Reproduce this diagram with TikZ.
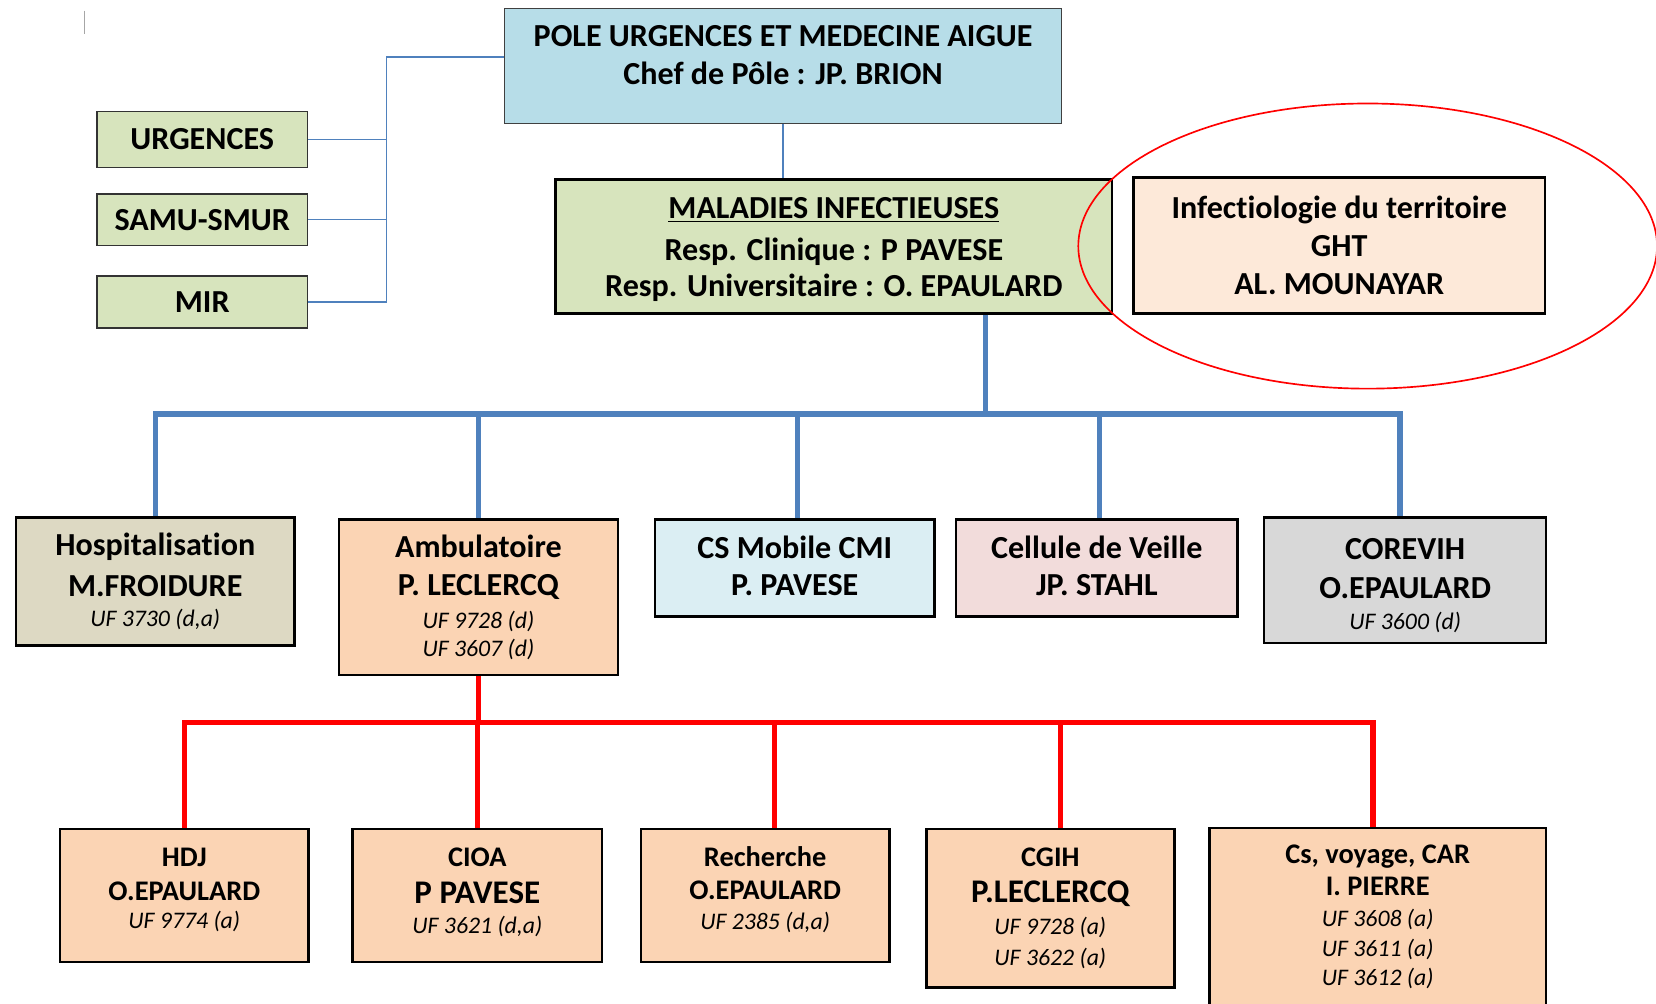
\documentclass[tikz,border=0pt]{standalone}
\usepackage{fontspec}
\setmainfont{Carlito}[Ligatures={NoCommon}]
\usepackage{xcolor}
\usetikzlibrary{positioning}
\definecolor{polebleu}{HTML}{B7DDE8}
\definecolor{vertol}{HTML}{D7E4BD}
\definecolor{pechepale}{HTML}{FDE9D9}
\definecolor{peche}{HTML}{FBD4B4}
\definecolor{beige}{HTML}{DDD9C3}
\definecolor{bleupale}{HTML}{DBEEF3}
\definecolor{rosepale}{HTML}{F2DCDB}
\definecolor{grispale}{HTML}{D8D8D8}
\definecolor{lienbleu}{HTML}{4F81BD}
\newcommand{\gros}{\fontsize{17.3}{20.5}\selectfont}
\newcommand{\grand}{\fontsize{17.8}{20.5}\selectfont}
\newcommand{\moyen}{\fontsize{15.3}{18.5}\selectfont}
\newcommand{\uftxt}{\fontsize{12.8}{15}\selectfont\mdseries\itshape}

\begin{document}
\begin{tikzpicture}[x=0.2mm,y=-0.2mm,
boite/.style={draw=black,line width=1.4pt,align=center,inner sep=0pt,font=\gros\bfseries},
petite/.style={boite,fill=peche,font=\moyen\bfseries},
lien/.style={draw=lienbleu,line width=0.75pt},
barre/.style={draw=lienbleu,line width=2.8pt},
rouge/.style={draw=red,line width=2.8pt}]
\useasboundingbox (0,0) rectangle (1568,950);
\fill[white] (0,0) rectangle (1568,950);
\draw[gray!70,line width=0.5pt] (80,10) -- (80,32);
% pole et services
\node[boite,fill=polebleu,draw=black!75,line width=0.7pt,minimum width=105.4mm,minimum height=21.8mm] (pole) at (741.5,62.5) {POLE URGENCES ET MEDECINE AIGUE\\Chef de Pôle : JP. BRION\\[-9pt]\mbox{}};
\node[boite,fill=vertol,draw=black!80,line width=0.9pt,minimum width=39.8mm,minimum height=10.6mm] (urg) at (191.5,132) {URGENCES};
\node[boite,fill=vertol,draw=black!80,line width=0.9pt,minimum width=39.8mm,minimum height=9.8mm] (samu) at (191.5,208) {SAMU-SMUR};
\node[boite,fill=vertol,draw=black!80,line width=0.9pt,minimum width=39.8mm,minimum height=9.8mm] (mir) at (191.5,286) {MIR};
\node[boite,fill=vertol,minimum width=105.4mm,minimum height=25.4mm] (mal) at (789.5,233.5) {\mbox{}\\[-6pt]\underline{MALADIES INFECTIEUSES}\\[2pt]Resp. Clinique : P PAVESE\\[-1pt]Resp. Universitaire : O. EPAULARD};
\node[boite,fill=pechepale,minimum width=78mm,minimum height=25.8mm] (ght) at (1268,232.5) {Infectiologie du territoire\\GHT\\AL. MOUNAYAR};
\draw[red,line width=0.9pt] (1295,233) ellipse [x radius=274,y radius=135];
% unites
\node[boite,fill=beige,minimum width=52.8mm,minimum height=24.2mm] (hosp) at (147,550.5) {Hospitalisation\\[1.5pt]M.FROIDURE\\[-4pt]{\uftxt UF 3730 (d,a)}};
\node[boite,fill=peche,minimum width=52.8mm,minimum height=29.4mm] (amb) at (453,565.5) {Ambulatoire\\P. LECLERCQ\\[-3pt]{\uftxt UF 9728 (d)}\\[-5.5pt]{\uftxt UF 3607 (d)}};
\node[boite,fill=bleupale,minimum width=53mm,minimum height=18.4mm] (csm) at (752.5,538) {CS Mobile CMI\\[-0.6pt]P. PAVESE\\[-18pt]\mbox{}};
\node[boite,fill=rosepale,minimum width=53.4mm,minimum height=18.4mm] (cel) at (1038.5,538) {Cellule de Veille\\[-0.6pt]JP. STAHL\\[-18pt]\mbox{}};
\node[boite,fill=grispale,minimum width=53.4mm,minimum height=23.8mm] (cor) at (1330.5,549.5) {\mbox{}\\[-3.7pt]COREVIH\\[0.5pt]O.EPAULARD\\[-4pt]{\uftxt UF 3600 (d)}};
% ambulatoire
\node[petite,minimum width=47mm,minimum height=25.2mm] (hdj) at (174.5,848) {HDJ\\O.EPAULARD\\[-3.5pt]{\uftxt UF 9774 (a)}\\[-10.5pt]\mbox{}};
\node[petite,minimum width=47.2mm,minimum height=25.2mm] (cioa) at (452,848) {CIOA\\[1pt]{\grand P PAVESE}\\[-2pt]{\uftxt UF 3621 (d,a)}\\[-13.5pt]\mbox{}};
\node[petite,minimum width=47mm,minimum height=25.2mm] (rech) at (724.5,848) {Recherche\\[-0.5pt]O.EPAULARD\\[-2.5pt]{\uftxt UF 2385 (d,a)}\\[-10pt]\mbox{}};
\node[petite,minimum width=47mm,minimum height=30mm] (cgih) at (994.5,860) {CGIH\\[1pt]{\grand P.LECLERCQ}\\[-1pt]{\uftxt UF 9728 (a)}\\[-2pt]{\uftxt UF 3622 (a)}};
\node[petite,minimum width=63.8mm,minimum height=33.6mm] (csv) at (1304.5,868) {Cs, voyage, CAR\\[-1pt]I. PIERRE\\[-2pt]{\uftxt UF 3608 (a)}\\[-2pt]{\uftxt UF 3611 (a)}\\[-3pt]{\uftxt UF 3612 (a)}};
% liens
\coordinate (lj) at (366,54);
\draw[lien] (pole.west |- lj) -- (lj) -- (lj |- mir.east) -- (mir.east);
\draw[lien] (urg.east) -- (lj |- urg.east);
\draw[lien] (samu.east) -- (lj |- samu.east);
\draw[lien] (pole.south) -- (pole.south |- mal.north);
\coordinate (mb) at (933,392);
\draw[barre] (mb |- mal.south) -- (mb);
\draw[barre] (hosp.north) -- (hosp.north |- mb) -- ([xshift=-1mm]cor.north |- mb) -- ([xshift=-1mm]cor.north);
\draw[barre] (amb.north |- mb) -- (amb.north);
\draw[barre] ([xshift=0.5mm]csm.north |- mb) -- ([xshift=0.5mm]csm.north);
\draw[barre] ([xshift=0.5mm]cel.north |- mb) -- ([xshift=0.5mm]cel.north);
\coordinate (ab) at (454,684);
\draw[rouge] (amb.south) -- (amb.south |- ab);
\draw[rouge] (hdj.north) -- (hdj.north |- ab) -- ([xshift=-0.9mm]csv.north |- ab) -- ([xshift=-0.9mm]csv.north);
\draw[rouge] (cioa.north |- ab) -- (cioa.north);
\draw[rouge] ([xshift=1.7mm]rech.north |- ab) -- ([xshift=1.7mm]rech.north);
\draw[rouge] ([xshift=1.9mm]cgih.north |- ab) -- ([xshift=1.9mm]cgih.north);
\end{tikzpicture}
\end{document}
